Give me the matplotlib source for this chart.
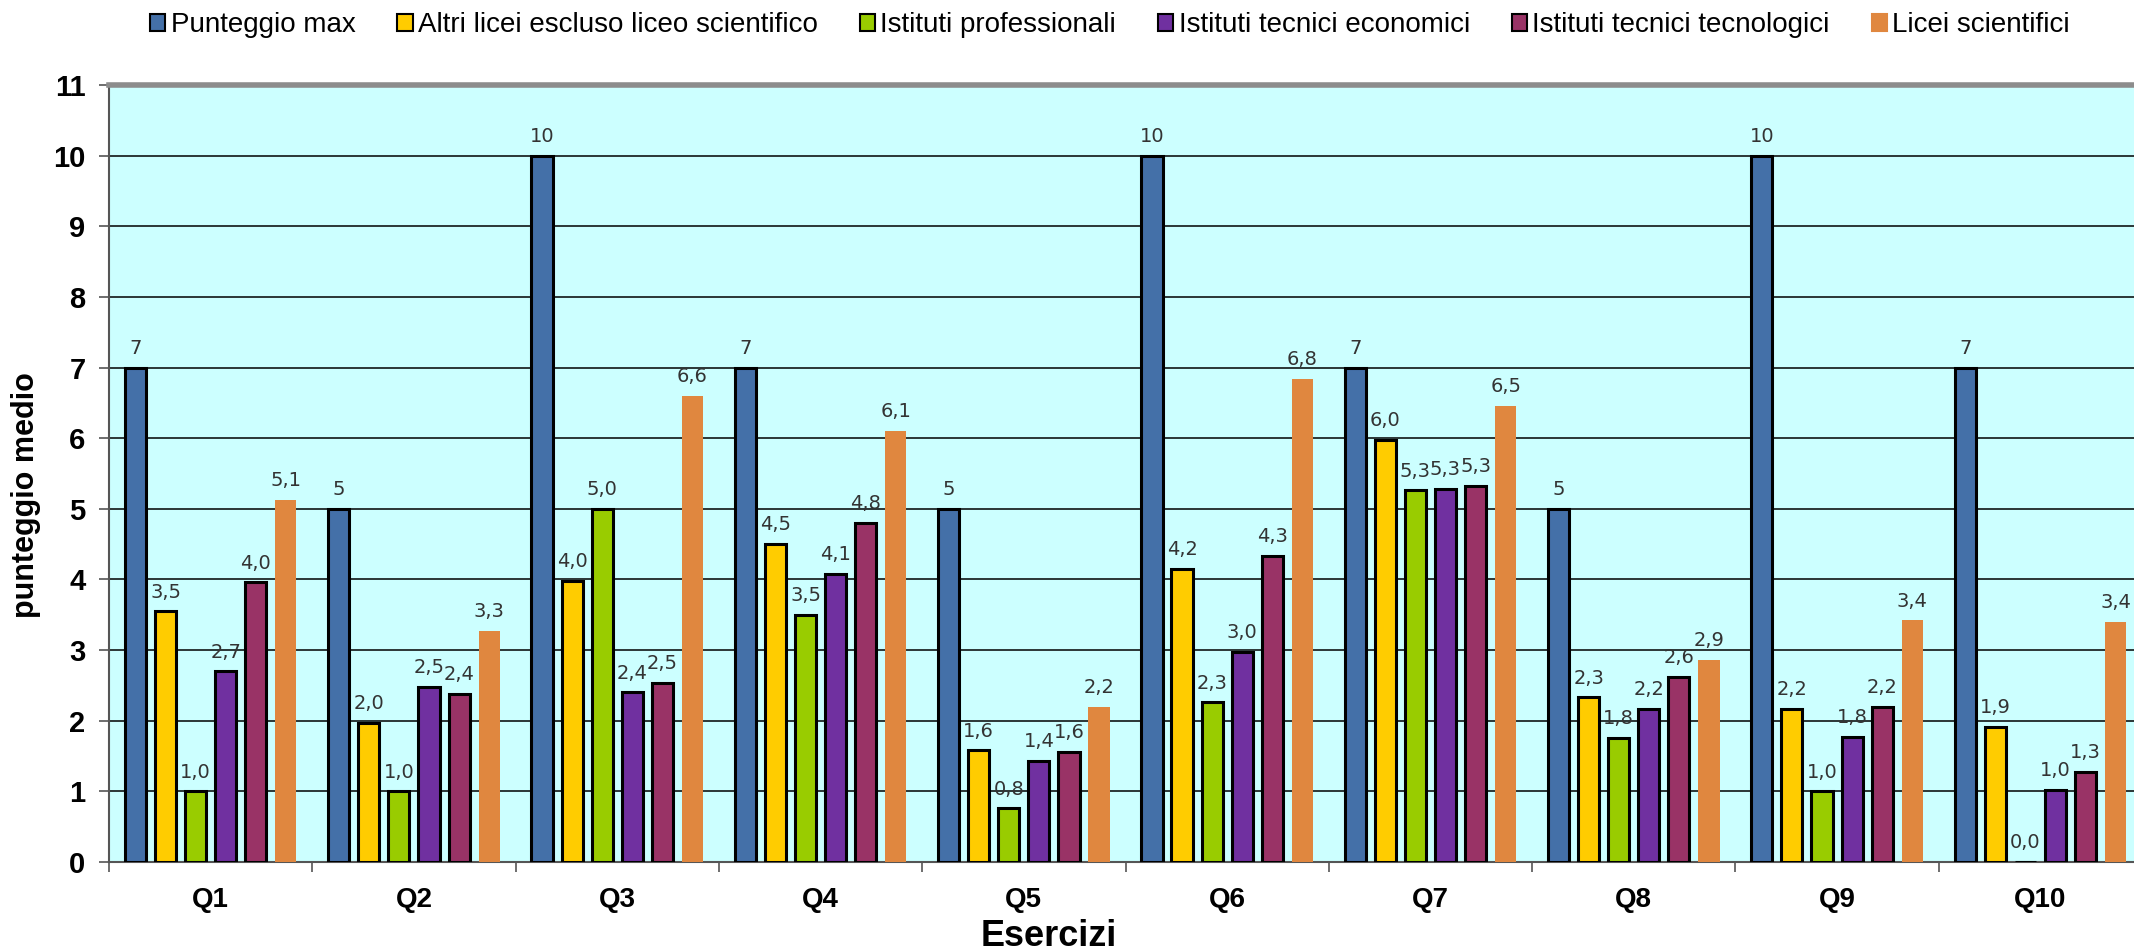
import numpy as np
import matplotlib.pyplot as plt
from matplotlib.patches import Patch

# data
esercizi = ['Q1', 'Q2', 'Q3', 'Q4', 'Q5', 'Q6', 'Q7', 'Q8', 'Q9', 'Q10']
punteggio_max = [7, 5, 10, 7, 5, 10, 7, 5, 10, 7]
altri_licei = [3.55, 1.97, 3.98, 4.50, 1.58, 4.15, 5.98, 2.33, 2.17, 1.91]
ist_professionali = [1.00, 1.00, 5.00, 3.50, 0.76, 2.26, 5.26, 1.76, 1.00, 0.00]
tecnici_economici = [2.70, 2.48, 2.40, 4.08, 1.43, 2.98, 5.28, 2.17, 1.77, 1.02]
tecnici_tecnologici = [3.96, 2.38, 2.54, 4.80, 1.56, 4.33, 5.33, 2.62, 2.20, 1.28]
licei_scientifici = [5.13, 3.27, 6.60, 6.10, 2.20, 6.84, 6.46, 2.86, 3.42, 3.40]

series_names = ['Punteggio max', 'Altri licei escluso liceo scientifico',
                'Istituti professionali', 'Istituti tecnici economici',
                'Istituti tecnici tecnologici', 'Licei scientifici']
series = [punteggio_max, altri_licei, ist_professionali,
          tecnici_economici, tecnici_tecnologici, licei_scientifici]
colors = ['#4470A8', '#FFCC00', '#99CC00', '#7030A0', '#993366', '#E0873F']
edges = ['black', 'black', 'black', 'black', 'black', 'none']

W, H = 2134, 952
fig = plt.figure(figsize=(W / 100, H / 100), dpi=100)
# plot area runs slightly past the right edge, as in the reference
ax = fig.add_axes([109 / W, 1 - 862 / H, 2033 / W, (862 - 85) / H])
ax.set_facecolor('#CCFFFF')

x = np.arange(len(esercizi))
pitch = 0.148
bw = 0.104
for i, (vals, c, ec) in enumerate(zip(series, colors, edges)):
    pos = x + (i - 2.5) * pitch
    ax.bar(pos, vals, width=bw, color=c, edgecolor=ec, linewidth=2.2, zorder=3)
    for p, v in zip(pos, vals):
        if i == 0:
            txt = '{:d}'.format(int(v))
        else:
            txt = '{:.1f}'.format(v).replace('.', ',')
        ax.annotate(txt, (p, v), xytext=(0, 7), textcoords='offset points',
                    ha='center', va='bottom', fontsize=14, color='#333333',
                    family='DejaVu Sans', zorder=4)

ax.set_xlim(-0.5, len(esercizi) - 0.5)
ax.set_ylim(0, 11)
ax.set_yticks(range(0, 12))
ax.yaxis.grid(True, color='black', linewidth=1.1, zorder=1)
ax.set_axisbelow(True)

ax.set_xticks(x)
ax.set_xticklabels(esercizi, fontsize=20, fontweight='bold', family='Liberation Sans')
ax.set_xticks(np.arange(-0.5, len(esercizi)), minor=True)
ax.tick_params(axis='x', which='major', length=0, pad=18)
ax.tick_params(axis='x', which='minor', length=7, width=1.2, color='#555555', direction='out')
ax.tick_params(axis='y', length=7, width=1.2, color='#555555', pad=10)
for lab in ax.get_yticklabels():
    lab.set_fontsize(21)
    lab.set_fontweight('bold')
    lab.set_family('Liberation Sans')

ax.spines['top'].set_color('#8C8C8C')
ax.spines['top'].set_linewidth(4)
ax.spines['left'].set_color('#555555')
ax.spines['left'].set_linewidth(1.5)
ax.spines['bottom'].set_color('#555555')
ax.spines['bottom'].set_linewidth(1.5)
ax.spines['right'].set_visible(False)

fig.text(26 / W, 1 - 495 / H, 'punteggio medio', rotation=90, ha='center', va='center',
         fontsize=22, fontweight='bold', family='Liberation Sans')
fig.text(1049 / W, 1 - 936 / H, 'Esercizi', ha='center', va='center',
         fontsize=26, fontweight='bold', family='Liberation Sans')

handles = [Patch(facecolor=c, edgecolor=('black' if ec == 'black' else c), linewidth=1.5)
           for c, ec in zip(colors, edges)]
fig.legend(handles, series_names, loc='center', bbox_to_anchor=(1110 / W, 1 - 25 / H),
           ncol=6, frameon=False, handlelength=0.55, handleheight=0.55,
           handletextpad=0.2, columnspacing=1.5,
           prop={'family': 'Liberation Sans', 'size': 20})

fig.savefig('out.png', dpi=100)
